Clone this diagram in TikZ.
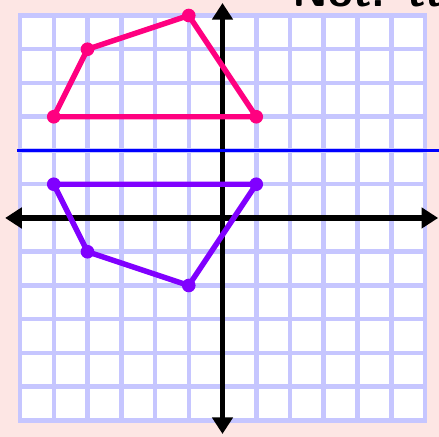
\documentclass[tikz,border=0pt]{standalone}
\definecolor{paperpink}{RGB}{253, 230, 228}
\definecolor{gridblue}{RGB}{198, 198, 255}
\definecolor{hotpink}{RGB}{255, 0, 128}
\definecolor{violet1}{RGB}{128, 0, 255}
\definecolor{mirrorblue}{RGB}{0, 0, 255}
\usepackage{tikz}
\usetikzlibrary{arrows.meta, calc}
\tikzset{
  gridline/.style={draw=gridblue, line width=3.8pt},
  axisline/.style={line width=5pt, {Triangle[width=17pt, length=14pt]}-{Triangle[width=17pt, length=14pt]}},
  mirrorline/.style={draw=mirrorblue, line width=2.4pt},
  shapeedge/.style={line width=4.6pt, line join=round},
  vdot/.style={circle, fill=#1, inner sep=0pt, minimum size=11.5pt},
  handnote/.style={anchor=base west, font=\fontsize{38}{44}\selectfont\sffamily\bfseries},
}

\begin{document}
\begin{tikzpicture}
  % page and grid paper
  \fill[paperpink] (-6.593,-6.489) rectangle (6.415,6.459);
  \useasboundingbox (-6.593,-6.489) rectangle (6.415,6.459);
  \fill[white] (-6,-6) rectangle (6,6);
  \foreach \k in {-6,...,6} {
    \draw[gridline] (\k,-6.05) -- (\k,6.05);
    \draw[gridline] (-6.05,\k) -- (6.05,\k);
  }
  % axes
  \coordinate (xl) at (-6.44,0);
  \coordinate (xr) at (6.39,0);
  \coordinate (yt) at (0,6.37);
  \coordinate (yb) at (0,-6.4);
  \draw[axisline] (xl) -- (xr);
  \draw[axisline] (yb) -- (yt);
  % line of reflection y = 2
  \coordinate (ml) at (-6.09,2);
  \coordinate (mr) at (6.42,2);
  \draw[mirrorline] (ml) -- (mr);
  % pre-image and image
  \foreach \n/\x/\y in {a/-5/3, b/-4/5, c/-1/6, d/1/3} {
    \coordinate (p\n) at (\x,\y);
    \coordinate (q\n) at (\x,4-\y);
  }
  \draw[shapeedge, hotpink] (pa) -- (pb) -- (pc) -- (pd) -- cycle;
  \draw[shapeedge, violet1] (qa) -- (qb) -- (qc) -- (qd) -- cycle;
  \foreach \n in {a,b,c,d} {
    \node[vdot=hotpink] (dp\n) at (p\n) {};
    \node[vdot=violet1] (dq\n) at (q\n) {};
  }
  \node[handnote] (note) at (1.95,6.27) {Not: tt};
\end{tikzpicture}
\end{document}
